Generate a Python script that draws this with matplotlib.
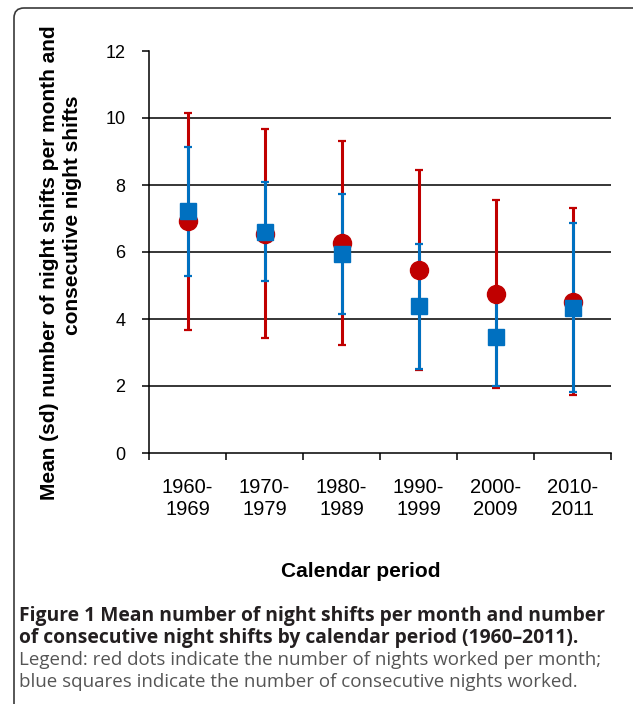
import matplotlib
matplotlib.use('Agg')
import matplotlib.pyplot as plt
from matplotlib.patches import FancyBboxPatch
import numpy as np

# ---- data ----
periods = ['1960-\n1969', '1970-\n1979', '1980-\n1989', '1990-\n1999', '2000-\n2009', '2010-\n2011']
nights_mean = [6.92, 6.55, 6.27, 5.47, 4.74, 4.52]
nights_sd = [3.24, 3.12, 3.04, 2.99, 2.81, 2.80]
consec_mean = [7.21, 6.61, 5.93, 4.38, 3.46, 4.34]
consec_sd = [1.92, 1.47, 1.79, 1.86, 1.47, 2.52]
yticks = [0, 2, 4, 6, 8, 10, 12]
gridlines = [2, 4, 6, 8, 10]

ylabel_lines = ['Mean (sd) number of night shifts per month and',
                'consecutive night shifts']
xlabel = 'Calendar period'
cap_bold = ['Figure 1 Mean number of night shifts per month and number',
            'of consecutive night shifts by calendar period (1960\u20132011).']
cap_norm = ['Legend: red dots indicate the number of nights worked per month;',
            'blue squares indicate the number of consecutive nights worked.']

RED = '#C00000'
BLUE = '#0070C0'
W, H = 633, 704

fig = plt.figure(figsize=(W / 100, H / 100), dpi=100)

# frame around figure
frame = FancyBboxPatch((0.14, -0.3), 6.6, (H - 8) / 100 + 0.3,
                       boxstyle='round,pad=0,rounding_size=0.1',
                       transform=fig.dpi_scale_trans, fill=False,
                       edgecolor='#3a3a3a', lw=1.2)
fig.patches.append(frame)

ax = fig.add_axes([149 / W, 251 / H, 462 / W, 402 / H])
x = np.arange(len(periods))

for g in gridlines:
    ax.axhline(g, color='black', lw=1.1, zorder=1)

ax.errorbar(x, nights_mean, yerr=nights_sd, fmt='none', ecolor=RED,
            elinewidth=2.2, capsize=3, capthick=1.6, zorder=3)
ax.errorbar(x, consec_mean, yerr=consec_sd, fmt='none', ecolor=BLUE,
            elinewidth=2.2, capsize=3, capthick=1.6, zorder=4)
ax.plot(x, nights_mean, 'o', color=RED, ms=13, ls='none', zorder=5)
ax.plot(x, consec_mean, 's', color=BLUE, ms=11, ls='none', zorder=6)

ax.set_xlim(-0.5, len(periods) - 0.5)
ax.set_ylim(0, 12)
ax.set_yticks(yticks)
ax.set_xticks(x)
ax.set_xticklabels(periods, fontsize=14.5, family='Liberation Sans', linespacing=1.2)
ax.set_xticks(np.arange(len(periods) + 1) - 0.5, minor=True)
ax.tick_params(axis='x', which='major', length=0, pad=18)
ax.tick_params(axis='x', which='minor', length=5, width=1.1, direction='out')
ax.tick_params(axis='y', length=5, width=1.1, direction='out', pad=12, labelsize=13)
for lab in ax.get_yticklabels():
    lab.set_family('Liberation Sans')
for s in ['top', 'right']:
    ax.spines[s].set_visible(False)
for s in ['left', 'bottom']:
    ax.spines[s].set_linewidth(1.1)
    ax.spines[s].set_color('black')

fig.text(50 / W, 1 - 263 / H, ylabel_lines[0], rotation=90, ha='center', va='center',
         fontsize=15, fontweight='bold', family='Liberation Sans')
fig.text(73 / W, 1 - 215 / H, ylabel_lines[1], rotation=90, ha='center', va='center',
         fontsize=15, fontweight='bold', family='Liberation Sans')

fig.text(361 / W, 1 - 577 / H, xlabel, ha='center', va='baseline',
         fontsize=15, fontweight='bold', family='Liberation Sans')

base = [621, 643, 665, 687]
for i, t in enumerate(cap_bold):
    fig.text(19 / W, 1 - base[i] / H, t, ha='left', va='baseline',
             fontsize=13.9, fontweight='bold', family='Open Sans', color='#231f20')
for i, t in enumerate(cap_norm):
    fig.text(19 / W, 1 - base[i + 2] / H, t, ha='left', va='baseline',
             fontsize=13.5, family='Open Sans', color='#555555')

fig.savefig('out.png', dpi=100)
